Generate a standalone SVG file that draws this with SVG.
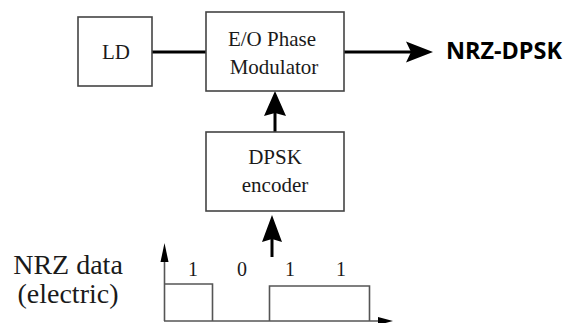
<svg xmlns="http://www.w3.org/2000/svg" width="571" height="323" viewBox="0 0 571 323">
<style>
.box{fill:#fff;stroke:#444;stroke-width:1.6}
.t{font-family:"Liberation Serif","Times New Roman",serif;font-size:21px;fill:#1a1a1a;text-anchor:middle}
.big{font-family:"Liberation Serif","Times New Roman",serif;font-size:28px;fill:#1a1a1a;text-anchor:middle}
.lab{font-family:"Liberation Serif","Times New Roman",serif;font-size:20px;fill:#1a1a1a;text-anchor:middle}
.con{stroke:#000;stroke-width:3;fill:none}
.sig{stroke:#555;stroke-width:1.6;fill:none}
.head{fill:#000}
</style>
<rect width="571" height="323" fill="#fff"/>
<g id="connectors">
<line class="con" x1="152" y1="52" x2="206" y2="52"/>
<line class="con" x1="344" y1="52" x2="412" y2="52"/>
<path class="head" d="M433,52 L406,41.5 L411,52 L406,62.5 Z"/>
<line class="con" x1="275" y1="132" x2="275" y2="112"/>
<path class="head" d="M275,91 L264,116 L275,113 L286,116 Z"/>
<line class="con" x1="272" y1="257" x2="272" y2="238"/>
<path class="head" d="M272,215 L262,242 L272,239 L282,242 Z"/>
</g>
<g id="LD">
<rect class="box" x="78" y="17" width="74" height="69"/>
<text class="t" x="116" y="59">LD</text>
</g>
<g id="modulator">
<rect class="box" x="206" y="12" width="138" height="79"/>
<text class="t" x="272" y="46">E/O Phase</text>
<text class="t" x="274" y="74">Modulator</text>
</g>
<g id="encoder">
<rect class="box" x="206" y="132" width="138" height="79"/>
<text class="t" x="275" y="164">DPSK</text>
<text class="t" x="275" y="192">encoder</text>
</g>
<g id="output">
<text x="446" y="59" font-family="'Open Sans','Liberation Sans',sans-serif" font-weight="bold" font-size="22.5" textLength="116" lengthAdjust="spacingAndGlyphs" fill="#000">NRZ-DPSK</text>
</g>
<g id="nrz-data">
<text class="big" x="68" y="274">NRZ data</text>
<text class="big" x="68" y="303">(electric)</text>
<line class="sig" x1="164.5" y1="321" x2="164.5" y2="258"/>
<path class="head" d="M164.5,243 L160.5,262 L168.5,262 Z"/>
<line class="sig" x1="164" y1="321" x2="380" y2="321"/>
<path class="head" d="M393,321 L378,317 L378,325 Z"/>
<polyline class="sig" points="164.5,284 212.5,284 212.5,321"/>
<polyline class="sig" points="269.5,321 269.5,286 369.5,286 369.5,321"/>
<text class="lab" x="193" y="276">1</text>
<text class="lab" x="242" y="276">0</text>
<text class="lab" x="290" y="276">1</text>
<text class="lab" x="341" y="276">1</text>
</g>
</svg>
